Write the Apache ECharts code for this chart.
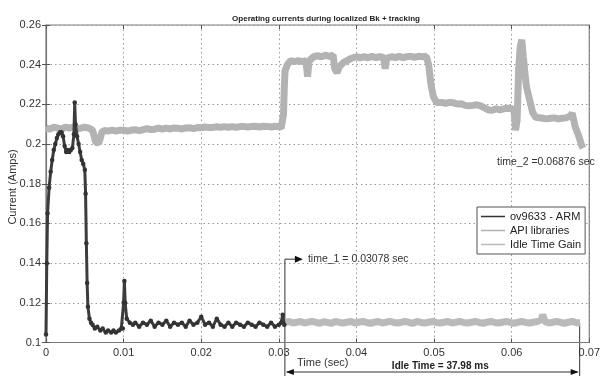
<!DOCTYPE html>
<html><head><meta charset="utf-8">
<script src="https://cdn.jsdelivr.net/npm/echarts@6/dist/echarts.min.js"></script>
<style>html,body{margin:0;padding:0;background:#fff}#c{width:603px;height:378px}</style>
</head><body><div id="c"></div>
<script>
const titleText = 'Operating currents during localized Bk + tracking';
const seriesNames = ['ov9633 - ARM', 'API libraries', 'Idle Time Gain'];
const time1 = 0.03078;
const time2 = 0.06876;
const time1LabelLevel = 0.142;
const idleLevel = 0.110;

const armData = [
[0.0000,0.104],[0.0001,0.140],[0.0002,0.165],[0.0004,0.178],[0.0006,0.186],[0.0008,0.192],
[0.0010,0.197],[0.0012,0.200],[0.0014,0.203],[0.0016,0.205],[0.0018,0.206],[0.0020,0.206],
[0.0022,0.204],[0.0024,0.199],[0.0026,0.196],[0.0028,0.197],[0.0030,0.196],[0.0032,0.197],
[0.0034,0.198],[0.0036,0.205],[0.0037,0.221],[0.0038,0.210],[0.0040,0.204],[0.0042,0.200],
[0.0044,0.196],[0.0046,0.192],[0.0048,0.190],[0.0050,0.187],[0.0051,0.175],[0.0052,0.150],
[0.0053,0.130],[0.0054,0.118],[0.0056,0.112],[0.0058,0.110],[0.0060,0.109],[0.0063,0.107],
[0.0066,0.108],[0.0070,0.106],[0.0073,0.107],[0.0077,0.105],[0.0080,0.106],[0.0084,0.105],
[0.0087,0.106],[0.0090,0.105],[0.0094,0.106],[0.0097,0.107],
[0.0099,0.107],[0.0100,0.120],[0.0101,0.131],[0.0102,0.120],[0.0104,0.112],[0.0108,0.110],
[0.0112,0.109],[0.0115,0.110],[0.0120,0.108],[0.0125,0.110],[0.0130,0.109],[0.0135,0.111],
[0.0140,0.108],[0.0145,0.110],[0.0150,0.109],[0.0155,0.111],[0.0160,0.108],[0.0165,0.110],
[0.0170,0.109],[0.0175,0.110],[0.0180,0.108],[0.0185,0.111],[0.0190,0.109],[0.0195,0.110],
[0.0200,0.113],[0.0205,0.109],[0.0210,0.110],[0.0215,0.108],[0.0220,0.112],[0.0225,0.109],
[0.0230,0.108],[0.0235,0.110],[0.0240,0.108],[0.0245,0.110],[0.0250,0.109],[0.0255,0.108],
[0.0260,0.110],[0.0265,0.109],[0.0270,0.108],[0.0275,0.110],[0.0280,0.109],[0.0285,0.108],
[0.0290,0.110],[0.0295,0.108],[0.0300,0.109],[0.0303,0.110],[0.0305,0.114],[0.0307,0.109]
];

const apiData = [
[0.0000,0.2080],[0.0005,0.2075],[0.0010,0.2085],[0.0015,0.2080],[0.0020,0.2075],[0.0025,0.2085],
[0.0030,0.2080],[0.0035,0.2085],[0.0040,0.2075],[0.0045,0.2080],[0.0050,0.2085],[0.0055,0.2080],
[0.0060,0.2070],[0.0062,0.2040],[0.0064,0.2010],[0.0066,0.2000],[0.0068,0.2005],[0.0070,0.2030],
[0.0072,0.2060],[0.0075,0.2068],[0.0080,0.2065],[0.0085,0.2070],[0.0090,0.2065],[0.0095,0.2070],
[0.0100,0.2070],[0.0105,0.2065],[0.0110,0.2070],[0.0115,0.2072],[0.0120,0.2068],[0.0125,0.2072],
[0.0130,0.2078],[0.0135,0.2073],[0.0140,0.2075],[0.0145,0.2080],[0.0150,0.2075],[0.0155,0.2080],
[0.0160,0.2076],[0.0165,0.2081],[0.0170,0.2080],[0.0175,0.2076],[0.0180,0.2081],[0.0185,0.2082],
[0.0190,0.2078],[0.0195,0.2083],[0.0200,0.2082],[0.0205,0.2086],[0.0210,0.2083],[0.0215,0.2084],
[0.0220,0.2087],[0.0225,0.2084],[0.0230,0.2088],[0.0235,0.2085],[0.0240,0.2088],[0.0245,0.2085],
[0.0250,0.2088],[0.0255,0.2089],[0.0260,0.2085],[0.0265,0.2089],[0.0270,0.2090],[0.0275,0.2086],
[0.0280,0.2090],[0.0285,0.2089],[0.0290,0.2086],[0.0295,0.2090],[0.0300,0.2088],[0.0303,0.2080],
[0.0305,0.2070],[0.0306,0.2150],[0.0307,0.2280],[0.0308,0.2370],[0.0311,0.2400],[0.0315,0.2420],
[0.0320,0.2415],[0.0325,0.2420],[0.0330,0.2415],[0.0335,0.2420],[0.0337,0.2340],[0.0339,0.2420],
[0.0345,0.2440],[0.0350,0.2445],[0.0355,0.2440],[0.0360,0.2448],[0.0365,0.2442],[0.0370,0.2448],
[0.0372,0.2380],[0.0375,0.2360],[0.0378,0.2390],[0.0383,0.2410],[0.0388,0.2420],[0.0392,0.2430],
[0.0400,0.2440],[0.0405,0.2435],[0.0410,0.2440],[0.0415,0.2435],[0.0420,0.2442],[0.0425,0.2436],
[0.0430,0.2440],[0.0435,0.2436],[0.0437,0.2380],[0.0439,0.2432],[0.0445,0.2440],[0.0450,0.2436],
[0.0455,0.2442],[0.0460,0.2436],[0.0465,0.2440],[0.0470,0.2442],[0.0475,0.2437],[0.0480,0.2442],
[0.0485,0.2440],[0.0490,0.2442],[0.0493,0.2400],[0.0496,0.2300],[0.0499,0.2240],[0.0503,0.2210],
[0.0510,0.2210],[0.0515,0.2205],[0.0520,0.2210],[0.0525,0.2208],[0.0530,0.2202],[0.0535,0.2203],
[0.0540,0.2195],[0.0545,0.2193],[0.0550,0.2195],[0.0555,0.2198],[0.0560,0.2192],[0.0565,0.2182],
[0.0570,0.2172],[0.0575,0.2170],[0.0580,0.2178],[0.0585,0.2172],[0.0590,0.2178],[0.0595,0.2180],
[0.0600,0.2178],[0.0603,0.2170],[0.0605,0.2070],[0.0607,0.2120],[0.0609,0.2380],[0.0611,0.2490],
[0.0613,0.2525],[0.0615,0.2440],[0.0617,0.2360],[0.0619,0.2290],[0.0622,0.2240],[0.0627,0.2160],
[0.0631,0.2135],[0.0640,0.2130],[0.0645,0.2127],[0.0650,0.2130],[0.0655,0.2132],[0.0660,0.2127],
[0.0665,0.2130],[0.0670,0.2132],[0.0675,0.2140],[0.0678,0.2155],[0.0680,0.2120],[0.0682,0.2085],
[0.0686,0.2045],[0.0690,0.1995],[0.0692,0.1980]
];

const idleData = [
[0.0308,0.1100],[0.0313,0.1106],[0.0318,0.1098],[0.0323,0.1102],[0.0328,0.1106],[0.0333,0.1098],
[0.0338,0.1103],[0.0343,0.1106],[0.0348,0.1101],[0.0353,0.1097],[0.0358,0.1105],[0.0363,0.1101],
[0.0368,0.1097],[0.0373,0.1106],[0.0378,0.1101],[0.0383,0.1098],[0.0388,0.1102],[0.0393,0.1106],
[0.0398,0.1098],[0.0403,0.1102],[0.0408,0.1106],[0.0413,0.1101],[0.0418,0.1097],[0.0423,0.1102],
[0.0428,0.1106],[0.0433,0.1098],[0.0438,0.1102],[0.0443,0.1107],[0.0448,0.1101],[0.0453,0.1098],
[0.0458,0.1102],[0.0463,0.1106],[0.0468,0.1101],[0.0473,0.1097],[0.0478,0.1106],[0.0483,0.1101],
[0.0488,0.1098],[0.0493,0.1102],[0.0498,0.1106],[0.0503,0.1101],[0.0508,0.1098],[0.0513,0.1102],
[0.0518,0.1106],[0.0523,0.1098],[0.0528,0.1102],[0.0533,0.1106],[0.0538,0.1101],[0.0543,0.1098],
[0.0548,0.1102],[0.0553,0.1106],[0.0558,0.1101],[0.0563,0.1097],[0.0568,0.1102],[0.0573,0.1106],
[0.0578,0.1101],[0.0583,0.1098],[0.0588,0.1102],[0.0593,0.1106],[0.0598,0.1101],[0.0603,0.1097],
[0.0608,0.1102],[0.0613,0.1106],[0.0618,0.1101],[0.0623,0.1098],[0.0628,0.1102],[0.0633,0.1106],
[0.0638,0.1115],[0.0640,0.1140],[0.0643,0.1105],[0.0648,0.1098],[0.0653,0.1102],[0.0658,0.1106],
[0.0663,0.1101],[0.0668,0.1097],[0.0673,0.1102],[0.0678,0.1106],[0.0683,0.1100],[0.0688,0.1100]
];

const xMin = 0, xMax = 0.07, xStep = 0.01;
const yMin = 0.1, yMax = 0.26, yStep = 0.02;

const FONT = 'Liberation Sans, Arial, sans-serif';
const chart = echarts.init(document.getElementById('c'), null, {renderer: 'canvas'});
const fmt = v => (v === 0 ? '0' : String(+v.toFixed(2)));

const option = {
  animation: false,
  backgroundColor: '#fff',
  title: {
    text: titleText, left: 321, top: 10, textAlign: 'center',
    textStyle: {fontSize: 8, fontWeight: 'bold', color: '#222', fontFamily: FONT}
  },
  grid: {left: 46, right: 5, top: 25, bottom: 35.5, show: true, borderColor: '#7a7a7a', borderWidth: 1.2, backgroundColor: '#fff'},
  legend: {
    data: seriesNames, orient: 'vertical', left: 477, top: 207,
    backgroundColor: '#fff', borderColor: '#555', borderWidth: 1, borderRadius: 0,
    padding: [3, 4, 3, 4], itemGap: 1, itemWidth: 24, itemHeight: 1.5, icon: 'rect',
    textStyle: {fontSize: 11, color: '#222', fontFamily: FONT, lineHeight: 13}
  },
  xAxis: [{
    type: 'value', min: xMin, max: xMax, interval: xStep,
    axisLine: {show: true, lineStyle: {color: '#7a7a7a', width: 1.2}},
    axisTick: {show: true, inside: true, length: 4, lineStyle: {color: '#555'}},
    axisLabel: {formatter: fmt, fontSize: 11, color: '#333', fontFamily: FONT, margin: 5},
    splitLine: {show: true, lineStyle: {type: [1.5, 3], color: '#9a9a9a', width: 1}}
  }, {
    type: 'value', position: 'top', min: xMin, max: xMax, interval: xStep,
    axisLine: {show: false}, axisLabel: {show: false}, splitLine: {show: false},
    axisTick: {show: true, inside: true, length: 4, lineStyle: {color: '#555'}}
  }],
  yAxis: [{
    type: 'value', min: yMin, max: yMax, interval: yStep,
    axisLine: {show: true, lineStyle: {color: '#7a7a7a', width: 1.2}},
    axisTick: {show: true, inside: true, length: 4, lineStyle: {color: '#555'}},
    axisLabel: {formatter: fmt, fontSize: 11, color: '#333', fontFamily: FONT, margin: 5},
    splitLine: {show: true, lineStyle: {type: [1.5, 3], color: '#9a9a9a', width: 1}}
  }, {
    type: 'value', position: 'right', min: yMin, max: yMax, interval: yStep,
    axisLine: {show: false}, axisLabel: {show: false}, splitLine: {show: false},
    axisTick: {show: true, inside: true, length: 4, lineStyle: {color: '#555'}}
  }],
  series: [
    {
      name: seriesNames[1], type: 'line', data: apiData, xAxisIndex: 0, yAxisIndex: 0,
      symbol: 'circle', symbolSize: 3, showSymbol: false,
      lineStyle: {color: '#b3b3b3', width: 7}, itemStyle: {color: '#b3b3b3'}, z: 2
    },
    {
      name: seriesNames[2], type: 'line', data: idleData, xAxisIndex: 0, yAxisIndex: 0,
      symbol: 'circle', symbolSize: 3, showSymbol: false,
      lineStyle: {color: '#bababa', width: 7}, itemStyle: {color: '#bababa'}, z: 2
    },
    {
      name: seriesNames[0], type: 'line', data: armData, xAxisIndex: 0, yAxisIndex: 0,
      symbol: 'circle', symbolSize: 4.5, showSymbol: true, showAllSymbol: true,
      lineStyle: {color: '#3c3c3c', width: 3}, itemStyle: {color: '#333'}, z: 3
    }
  ]
};
chart.setOption(option);

function px(t, v) { return chart.convertToPixel({gridIndex: 0}, [t, v]); }
const p1 = px(time1, time1LabelLevel);
const p2 = px(time2, idleLevel);
const bottomY = 376;
const arrowY = 372;
const lineCol = '#333';
const g = [
  {type: 'text', x: 13, y: 187, rotation: Math.PI / 2, style: {text: 'Current (Amps)', font: '11px ' + FONT, fill: '#333', textAlign: 'center', textVerticalAlign: 'middle'}},
  {type: 'text', x: 297, y: 363, style: {text: 'Time (sec)', font: '11px ' + FONT, fill: '#333', textVerticalAlign: 'middle'}},
  {type: 'line', shape: {x1: p1[0], y1: p1[1], x2: p1[0], y2: bottomY}, style: {stroke: lineCol, lineWidth: 1}},
  {type: 'line', shape: {x1: p1[0], y1: p1[1], x2: p1[0] + 12, y2: p1[1]}, style: {stroke: lineCol, lineWidth: 1}},
  {type: 'polygon', shape: {points: [[p1[0] + 10, p1[1] - 3.5], [p1[0] + 18, p1[1]], [p1[0] + 10, p1[1] + 3.5]]}, style: {fill: '#111'}},
  {type: 'text', x: p1[0] + 23, y: p1[1], style: {text: 'time_1 = 0.03078 sec', font: '10.5px ' + FONT, fill: '#333', textVerticalAlign: 'middle'}},
  {type: 'line', shape: {x1: p2[0], y1: p2[1], x2: p2[0], y2: bottomY}, style: {stroke: lineCol, lineWidth: 1}},
  {type: 'text', x: 497, y: 162, style: {text: 'time_2 =0.06876 sec', font: '10.5px ' + FONT, fill: '#333', textVerticalAlign: 'middle'}},
  {type: 'line', shape: {x1: p1[0] + 2, y1: arrowY, x2: p2[0] - 2, y2: arrowY}, style: {stroke: lineCol, lineWidth: 1}},
  {type: 'polygon', shape: {points: [[p1[0] + 1, arrowY], [p1[0] + 9, arrowY - 3], [p1[0] + 9, arrowY + 3]]}, style: {fill: '#111'}},
  {type: 'polygon', shape: {points: [[p2[0] - 1, arrowY], [p2[0] - 9, arrowY - 3], [p2[0] - 9, arrowY + 3]]}, style: {fill: '#111'}},
  {type: 'text', x: (p1[0] + p2[0]) / 2 + 8, y: 366, style: {text: 'Idle Time = 37.98 ms', font: 'bold 10px ' + FONT, fill: '#222', textAlign: 'center', textVerticalAlign: 'middle'}}
];
chart.setOption({graphic: g});
</script>
</body></html>
